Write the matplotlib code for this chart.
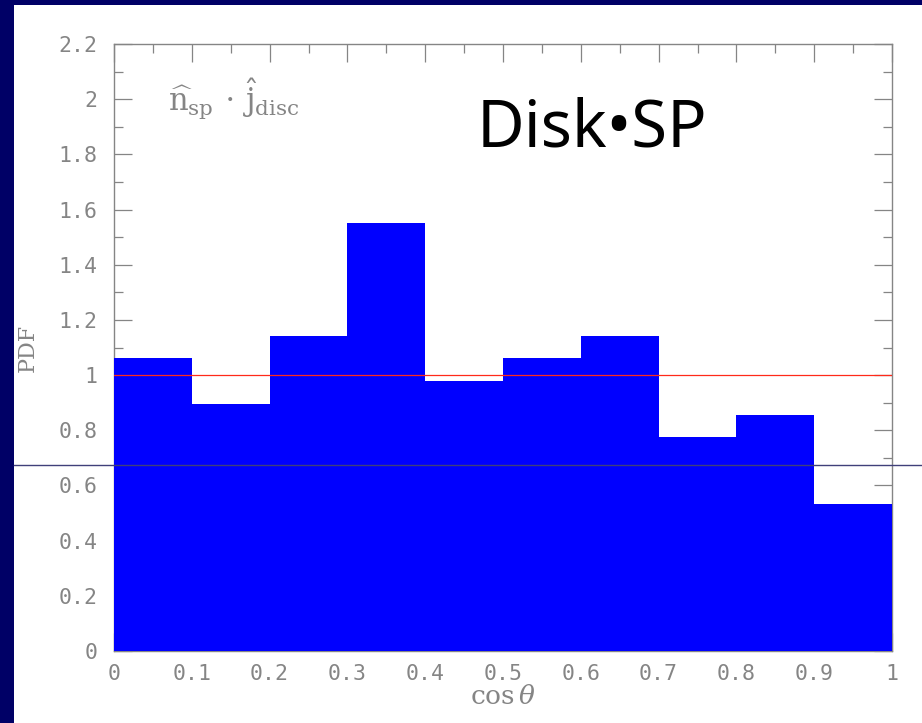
import matplotlib
matplotlib.use('Agg')
import matplotlib.pyplot as plt
from matplotlib.lines import Line2D
from matplotlib.patches import Rectangle
from matplotlib.ticker import MultipleLocator, FormatStrFormatter
import numpy as np

# histogram of cos(theta), 10 bins between 0 and 1
bin_edges = [0.0, 0.1, 0.2, 0.3, 0.4, 0.5, 0.6, 0.7, 0.8, 0.9, 1.0]
pdf_vals = [1.061, 0.897, 1.141, 1.55, 0.978, 1.061, 1.141, 0.774, 0.855, 0.533]
ref_level = 1.0

grey = '#858585'
navy = '#000066'

plt.rcParams['mathtext.fontset'] = 'dejavuserif'

fig = plt.figure(figsize=(9.22, 7.23), dpi=100, facecolor=navy)
# white slide panel
fig.patches.append(Rectangle((14 / 922, 0), 1, (723 - 5) / 723, transform=fig.transFigure,
                             facecolor='white', edgecolor='none', zorder=-1))

ax = fig.add_axes([114 / 922, (723 - 651) / 723, (892 - 114) / 922, (651 - 44) / 723])
ax.set_facecolor('white')

widths = np.diff(bin_edges)
ax.bar(bin_edges[:-1], pdf_vals, width=widths, align='edge', color='#0000ff',
       edgecolor='#0000ff', linewidth=0, zorder=3)
ax.axhline(ref_level, color='#ff2a1a', linewidth=0.9, zorder=4)

ax.set_xlim(0, 1)
ax.set_ylim(0, 2.2)
ax.xaxis.set_major_locator(MultipleLocator(0.1))
ax.xaxis.set_minor_locator(MultipleLocator(0.05))
ax.yaxis.set_major_locator(MultipleLocator(0.2))
ax.yaxis.set_minor_locator(MultipleLocator(0.1))
ax.xaxis.set_major_formatter(FormatStrFormatter('%g'))
ax.yaxis.set_major_formatter(FormatStrFormatter('%g'))

for s in ax.spines.values():
    s.set_color(grey)
    s.set_linewidth(1.0)

ax.tick_params(which='both', direction='in', top=True, right=True, color=grey, width=0.9)
ax.tick_params(which='major', length=13)
ax.tick_params(which='minor', length=6.5)
ax.tick_params(axis='x', which='major', pad=9.5, labelsize=15.5, labelcolor=grey)
ax.tick_params(axis='y', which='major', pad=12, labelsize=15.5, labelcolor=grey)
for lab in ax.get_xticklabels() + ax.get_yticklabels():
    lab.set_family('DejaVu Sans Mono')

ax.set_xlabel(r'$\cos\theta$', fontsize=19, color=grey, labelpad=0)
ax.set_ylabel('PDF', fontsize=16, color=grey, family='DejaVu Serif', labelpad=14)

ax.text(0.07, 2.0, r'$\widehat{\mathrm{n}}_{\mathrm{sp}}\,\cdot\,\widehat{\mathrm{j}}_{\mathrm{disc}}$',
        fontsize=22, color=grey, ha='left', va='center', zorder=5)
ax.text(0.614, 1.89, 'Disk\u2022SP', fontsize=47, color='black', ha='center', va='center',
        family=['Noto Sans', 'DejaVu Sans'], zorder=5)

# stray slide line across the figure
fig.lines.append(Line2D([14 / 922, 1], [(723 - 465) / 723] * 2, transform=fig.transFigure,
                        color='#40407a', linewidth=1.0, zorder=10))

fig.savefig('out.png', dpi=100, facecolor=navy)
